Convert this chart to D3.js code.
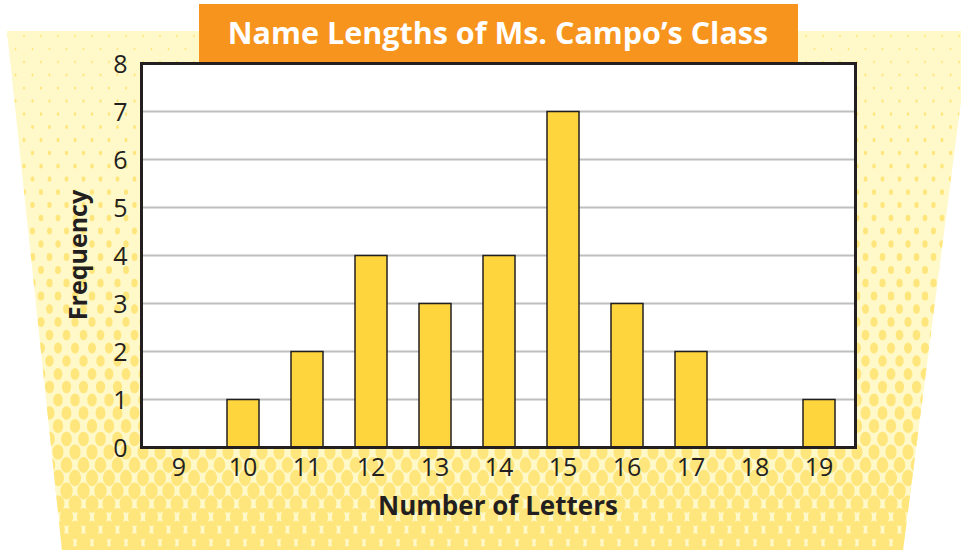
<!DOCTYPE html>
<html>
<head>
<meta charset="utf-8">
<script src="https://cdn.jsdelivr.net/npm/d3@7"></script>
<style>
  html, body { margin: 0; padding: 0; background: #fff; }
  svg { display: block; font-family: "Open Sans", "Noto Sans", sans-serif; }
</style>
</head>
<body>
<script>
const title = "Name Lengths of Ms. Campo’s Class";
const xTitle = "Number of Letters";
const yTitle = "Frequency";
const letters = [9, 10, 11, 12, 13, 14, 15, 16, 17, 18, 19];
const frequency = [0, 1, 2, 4, 3, 4, 7, 3, 2, 0, 1];
const yTicks = [0, 1, 2, 3, 4, 5, 6, 7, 8];

const width = 961;
const height = 550;
const ink = "#231f20";

const svg = d3.select("body")
  .append("svg")
  .attr("width", width)
  .attr("height", height);

// yellow halftone backdrop, a trapezoid wider at the top
const trap = [[7, 31], [970, 31], [903, 550], [62, 550]];
svg.append("clipPath")
  .attr("id", "trap")
  .append("polygon")
  .attr("points", trap.map(p => p.join(",")).join(" "));

const back = svg.append("g").attr("clip-path", "url(#trap)");
back.append("rect")
  .attr("x", 0).attr("y", 0)
  .attr("width", width).attr("height", height)
  .attr("fill", "#fff8c8");

const dots = [];
d3.range(36, 560, 13).forEach((y, row) => {
  const off = row % 2 ? 8.5 : 0;
  d3.range(-10 + off, width + 10, 17).forEach(x => dots.push({x, y}));
});
const size = d3.scaleLinear().domain([31, 550]).range([0, 1]);
back.selectAll("ellipse")
  .data(dots)
  .join("ellipse")
  .attr("cx", d => d.x)
  .attr("cy", d => d.y)
  .attr("rx", d => 0.8 + 6.4 * Math.pow(size(d.y), 1.4))
  .attr("ry", d => 1.2 + 8.6 * Math.pow(size(d.y), 1.4))
  .attr("fill", "#ffe67c");

// title banner
svg.append("rect")
  .attr("x", 199).attr("y", 4)
  .attr("width", 599).attr("height", 58)
  .attr("fill", "#f7941d");
svg.append("text")
  .attr("x", 498).attr("y", 44)
  .attr("text-anchor", "middle")
  .attr("fill", "#fff")
  .attr("font-size", 30.5)
  .attr("font-weight", "bold")
  .text(title);

// plot area
const plotL = 141.5, plotR = 855.5, plotT = 63.5, plotB = 447.5;

const x = d3.scaleBand()
  .domain(letters)
  .range([147, 851])
  .paddingInner(0.5)
  .paddingOuter(0.25);

const y = d3.scaleLinear()
  .domain([0, 8])
  .range([plotB, plotT]);

svg.append("rect")
  .attr("x", plotL).attr("y", plotT)
  .attr("width", plotR - plotL).attr("height", plotB - plotT)
  .attr("fill", "#fff");

svg.append("g")
  .selectAll("line")
  .data(yTicks.slice(1, -1))
  .join("line")
  .attr("x1", plotL).attr("x2", plotR)
  .attr("y1", d => y(d)).attr("y2", d => y(d))
  .attr("stroke", "#bcbec0")
  .attr("stroke-width", 2);

svg.append("g")
  .selectAll("rect")
  .data(letters.map((l, i) => ({l, v: frequency[i]})).filter(d => d.v > 0))
  .join("rect")
  .attr("x", d => x(d.l))
  .attr("y", d => y(d.v))
  .attr("width", x.bandwidth())
  .attr("height", d => y(0) - y(d.v))
  .attr("fill", "#fed53d")
  .attr("stroke", ink)
  .attr("stroke-width", 1.5);

svg.append("rect")
  .attr("x", plotL).attr("y", plotT)
  .attr("width", plotR - plotL).attr("height", plotB - plotT)
  .attr("fill", "none")
  .attr("stroke", ink)
  .attr("stroke-width", 3);

// axes labels
const yAxis = d3.axisLeft(y).tickValues(yTicks).tickSize(0).tickPadding(14);
const gy = svg.append("g")
  .attr("transform", `translate(${plotL},0)`)
  .call(yAxis)
  .attr("font-family", null)
  .attr("font-size", 25);
gy.select(".domain").remove();
gy.selectAll("text")
  .attr("fill", ink)
  .attr("dy", "0.36em");

const xAxis = d3.axisBottom(x).tickSize(0).tickPadding(11);
const gx = svg.append("g")
  .attr("transform", `translate(0,${plotB})`)
  .call(xAxis)
  .attr("font-family", null)
  .attr("font-size", 25);
gx.select(".domain").remove();
gx.selectAll("text")
  .attr("fill", ink)
  .attr("dy", "0.71em");

svg.append("text")
  .attr("x", 498).attr("y", 515)
  .attr("text-anchor", "middle")
  .attr("font-size", 26)
  .attr("font-weight", "bold")
  .attr("fill", ink)
  .text(xTitle);

svg.append("text")
  .attr("transform", "translate(87,255) rotate(-90)")
  .attr("text-anchor", "middle")
  .attr("font-size", 25)
  .attr("font-weight", "bold")
  .attr("fill", ink)
  .text(yTitle);
</script>
</body>
</html>
